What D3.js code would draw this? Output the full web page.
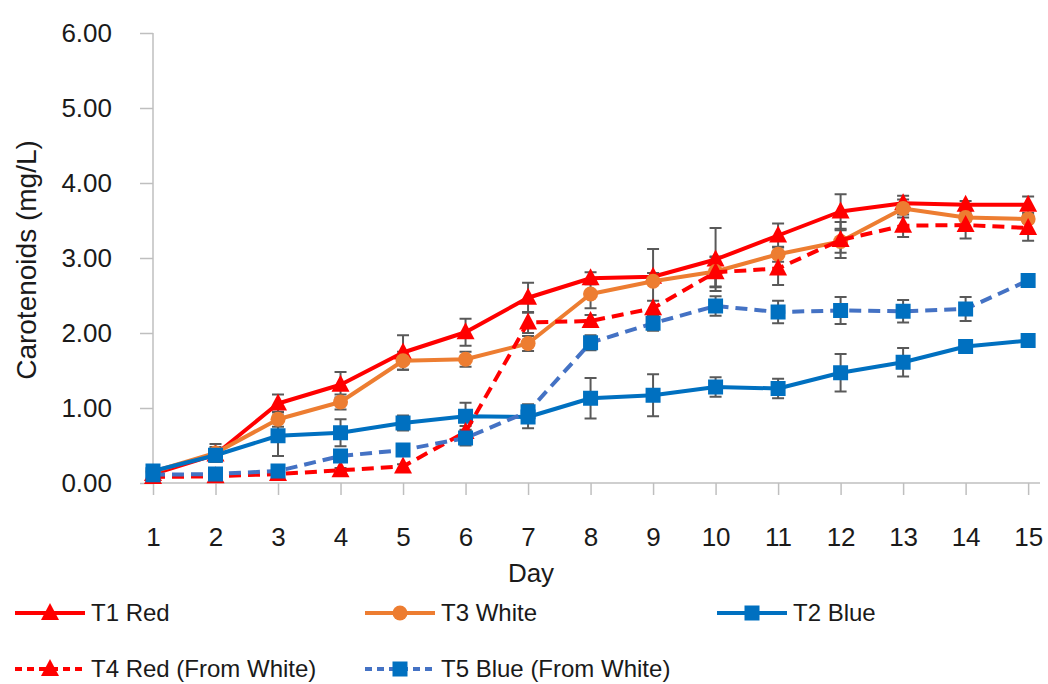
<!DOCTYPE html>
<html>
<head>
<meta charset="utf-8">
<script src="https://cdn.jsdelivr.net/npm/d3@7"></script>
<style>
  html, body { margin: 0; padding: 0; background: #fff; }
  svg { display: block; font-family: "Liberation Sans", Arial, sans-serif; }
</style>
</head>
<body>
<svg id="chart" width="1048" height="684"></svg>
<script>
// Carotenoid content over 15 days of cultivation under different light treatments
const days = [1, 2, 3, 4, 5, 6, 7, 8, 9, 10, 11, 12, 13, 14, 15];
const yTicks = [0, 1, 2, 3, 4, 5, 6];

const t1Red   = [0.12, 0.38, 1.06, 1.31, 1.74, 2.01, 2.47, 2.73, 2.75, 2.98, 3.30, 3.62, 3.73, 3.71, 3.71];
const t1Err   = [0.03, 0.10, 0.12, 0.17, 0.23, 0.18, 0.20, 0.08, 0.05, 0.42, 0.16, 0.23, 0.10, 0.05, 0.11];

const t3White = [0.15, 0.40, 0.85, 1.08, 1.63, 1.65, 1.86, 2.52, 2.69, 2.82, 3.05, 3.22, 3.66, 3.54, 3.52];
const t3Err   = [0.03, 0.12, 0.10, 0.10, 0.12, 0.10, 0.10, 0.19, 0.43, 0.20, 0.10, 0.15, 0.12, 0.05, 0.05];

const t2Blue  = [0.16, 0.37, 0.63, 0.67, 0.80, 0.89, 0.88, 1.13, 1.17, 1.28, 1.26, 1.47, 1.61, 1.82, 1.90];
const t2Err   = [0.03, 0.08, 0.27, 0.18, 0.10, 0.18, 0.15, 0.27, 0.28, 0.13, 0.13, 0.25, 0.19, 0.04, 0.03];

const t4Red   = [0.08, 0.09, 0.12, 0.17, 0.22, 0.68, 2.14, 2.16, 2.33, 2.81, 2.86, 3.24, 3.43, 3.44, 3.40];
const t4Err   = [0.02, 0.02, 0.03, 0.03, 0.03, 0.08, 0.14, 0.08, 0.10, 0.20, 0.22, 0.24, 0.15, 0.18, 0.17];

const t5Blue  = [0.11, 0.12, 0.16, 0.36, 0.44, 0.60, 0.95, 1.87, 2.13, 2.36, 2.28, 2.30, 2.29, 2.32, 2.70];
const t5Err   = [0.02, 0.02, 0.03, 0.05, 0.05, 0.10, 0.10, 0.10, 0.10, 0.13, 0.15, 0.18, 0.15, 0.16, 0.03];

const seriesNames = ["T1 Red", "T3 White", "T2 Blue", "T4 Red (From White)", "T5 Blue (From White)"];

const series = [
  { name: seriesNames[0], values: t1Red,   err: t1Err, line: "#FF0000", fill: "#FF0000", dash: null,   symbol: "triangle" },
  { name: seriesNames[1], values: t3White, err: t3Err, line: "#ED7D31", fill: "#ED7D31", dash: null,   symbol: "circle" },
  { name: seriesNames[2], values: t2Blue,  err: t2Err, line: "#0070C0", fill: "#0070C0", dash: null,   symbol: "square" },
  { name: seriesNames[3], values: t4Red,   err: t4Err, line: "#FF0000", fill: "#FF0000", dash: "12,7", symbol: "triangle" },
  { name: seriesNames[4], values: t5Blue,  err: t5Err, line: "#4472C4", fill: "#0070C0", dash: "12,7", symbol: "square" }
];

const svg = d3.select("#chart");
const textColor = "#1a1a1a";
const axisColor = "#BFBFBF";

const x = d3.scaleLinear().domain([1, 15.19]).range([153, 1040]);
const y = d3.scaleLinear().domain([0, 6]).range([483, 33]);

// y axis
const yAxis = svg.append("g")
  .attr("transform", `translate(${x(1)},0)`)
  .call(d3.axisLeft(y).tickValues(yTicks).tickSize(13).tickPadding(28).tickFormat(d3.format(".2f")));
yAxis.selectAll("path, line").attr("stroke", axisColor).attr("stroke-width", 1.5);
yAxis.select("path").attr("d", `M0,${y(6)}V${y(0)}`);
yAxis.selectAll("text").attr("fill", textColor).attr("font-size", 26).attr("font-family", "Liberation Sans, Arial, sans-serif");

// x axis
const xAxis = svg.append("g")
  .attr("transform", `translate(0,${y(0)})`)
  .call(d3.axisBottom(x).tickValues(days).tickSize(12).tickFormat(d3.format("d")));
xAxis.selectAll("path, line").attr("stroke", axisColor).attr("stroke-width", 1.5);
xAxis.select("path").attr("d", `M${x(1)},0H${x.range()[1]}`);
xAxis.selectAll("text")
  .attr("y", 54).attr("dy", "0.35em")
  .attr("fill", textColor).attr("font-size", 26).attr("font-family", "Liberation Sans, Arial, sans-serif");

// axis titles
svg.append("text")
  .attr("transform", `translate(36,${(y(0) + y(6)) / 2 + 2}) rotate(-90)`)
  .attr("text-anchor", "middle")
  .attr("fill", textColor).attr("font-size", 28)
  .text("Carotenoids (mg/L)");

svg.append("text")
  .attr("x", 531).attr("y", 582)
  .attr("text-anchor", "middle")
  .attr("fill", textColor).attr("font-size", 26)
  .text("Day");

// symbols
function drawSymbol(g, type, cx, cy, color) {
  if (type === "triangle") {
    g.append("path")
      .attr("d", `M${cx},${cy - 10}L${cx + 9},${cy + 7}L${cx - 9},${cy + 7}Z`)
      .attr("fill", color);
  } else if (type === "circle") {
    g.append("circle").attr("cx", cx).attr("cy", cy).attr("r", 7.5).attr("fill", color);
  } else {
    g.append("rect").attr("x", cx - 7.5).attr("y", cy - 7.5).attr("width", 15).attr("height", 15).attr("fill", color);
  }
}

// error bars beneath the lines
const errG = svg.append("g");
series.forEach(s => {
  s.values.forEach((v, i) => {
    const cx = x(days[i]);
    const top = y(v + s.err[i]), bot = y(v - s.err[i]);
    errG.append("line").attr("x1", cx).attr("x2", cx).attr("y1", top).attr("y2", bot)
      .attr("stroke", "#595959").attr("stroke-width", 2);
    [top, bot].forEach(yy => errG.append("line")
      .attr("x1", cx - 6).attr("x2", cx + 6).attr("y1", yy).attr("y2", yy)
      .attr("stroke", "#595959").attr("stroke-width", 2));
  });
});

// lines and markers
const line = d3.line().x((d, i) => x(days[i])).y(d => y(d));
series.forEach(s => {
  const g = svg.append("g");
  g.append("path").datum(s.values)
    .attr("d", line)
    .attr("fill", "none")
    .attr("stroke", s.line)
    .attr("stroke-width", 4)
    .attr("stroke-linejoin", "round")
    .attr("stroke-dasharray", s.dash);
  s.values.forEach((v, i) => drawSymbol(g, s.symbol, x(days[i]), y(v), s.fill));
});

// legend
const legendPos = [
  { lx: 15, tx: 91, y: 613 },
  { lx: 365, tx: 441, y: 613 },
  { lx: 717, tx: 793, y: 613 },
  { lx: 15, tx: 91, y: 669 },
  { lx: 365, tx: 441, y: 669 }
];
series.forEach((s, i) => {
  const p = legendPos[i];
  const g = svg.append("g");
  g.append("line")
    .attr("x1", p.lx).attr("x2", p.lx + 70).attr("y1", p.y).attr("y2", p.y)
    .attr("stroke", s.line).attr("stroke-width", 4)
    .attr("stroke-dasharray", s.dash ? "7,5" : null);
  drawSymbol(g, s.symbol, p.lx + 35, p.y, s.fill);
  g.append("text")
    .attr("x", p.tx).attr("y", p.y).attr("dy", "0.35em")
    .attr("fill", textColor).attr("font-size", 24)
    .text(s.name);
});
</script>
</body>
</html>
